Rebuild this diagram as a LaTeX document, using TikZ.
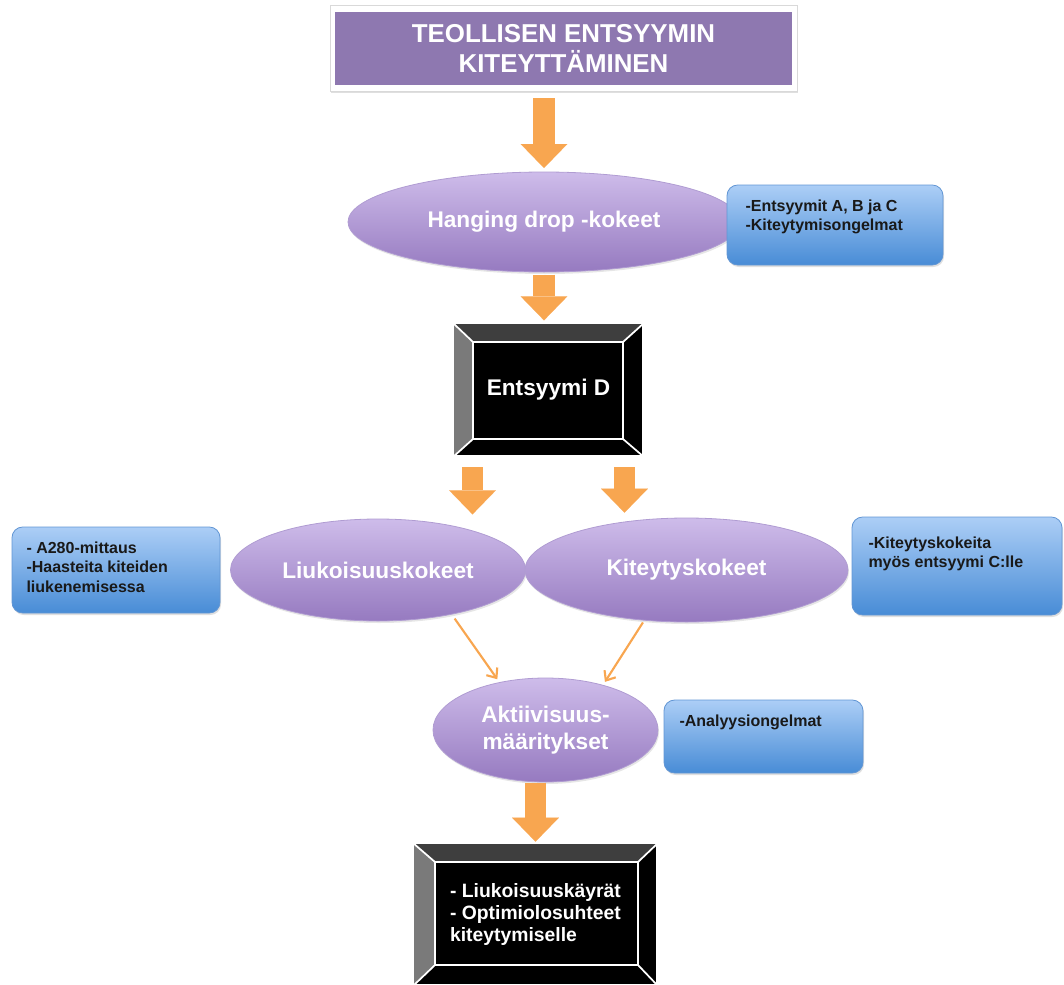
\documentclass[tikz,border=0pt]{standalone}
\usepackage{fontspec}
\setmainfont{Liberation Sans}
\usetikzlibrary{calc,shapes.geometric,arrows.meta,shadows}

\definecolor{titlepurple}{RGB}{142,120,176}
\definecolor{elltop}{RGB}{206,188,234}
\definecolor{ellbot}{RGB}{150,122,192}
\definecolor{elledge}{RGB}{176,156,210}
\definecolor{bluetop}{RGB}{172,206,246}
\definecolor{bluebot}{RGB}{72,140,214}
\definecolor{blueedge}{RGB}{98,150,212}
\definecolor{arroworange}{RGB}{248,166,80}
\definecolor{bevelgrey}{RGB}{122,122,122}
\definecolor{beveldark}{RGB}{62,62,62}

\tikzset{every picture/.style={line width=0.75pt}}
\tikzset{
  ellipsebox/.style={ellipse, inner sep=0pt, outer sep=0pt, top color=elltop, bottom color=ellbot,
    draw=elledge, line width=0.6pt, text=white, align=center,
    font=\fontsize{17}{20}\selectfont\bfseries,
    drop shadow={opacity=0.2, shadow xshift=0.8pt, shadow yshift=-1.5pt}},
  infobox/.style={rectangle, rounded corners=8pt, inner sep=0pt, outer sep=0pt,
    top color=bluetop, bottom color=bluebot, draw=blueedge, line width=0.6pt,
    drop shadow={opacity=0.25, shadow xshift=0.8pt, shadow yshift=-1.5pt}},
  infotext/.style={anchor=north west, inner sep=0pt, align=left, text=black!90,
    font=\fontsize{12}{14.6}\selectfont\bfseries},
  bevelbox/.style={rectangle, inner sep=0pt, outer sep=0pt, fill=black, draw=white,
    line width=3pt, text=white,
    drop shadow={opacity=0.3, shadow xshift=0.8pt, shadow yshift=-1.5pt}},
  bevelline/.style={draw=white, line width=1.3pt},
  bigarrow/.style={draw=arroworange, line width=16pt,
    -{Triangle[width=35pt,length=18pt,line width=0.01pt]}},
  thinarrow/.style={draw=arroworange, line width=1.6pt,
    -{Straight Barb[length=6pt,width=10pt]}},
}

\begin{document}
\begin{tikzpicture}[x=0.75pt,y=0.75pt,yscale=-1,xscale=1]
\useasboundingbox (0,0) rectangle (1064,985);

%Title
\node[rectangle, fill=white, draw=black!15, line width=0.6pt, minimum width=350.25pt, minimum height=64.5pt,
  drop shadow={opacity=0.25, shadow xshift=0.8pt, shadow yshift=-1.5pt}] (titlebox) at (563.5,48) {};
\node[rectangle, fill=titlepurple, minimum width=342.75pt, minimum height=54.75pt, text=white, align=center,
  font=\fontsize{19.4}{22.5}\selectfont\bfseries] (title) at (563.5,48.5) {TEOLLISEN ENTSYYMIN\\KITEYTTÄMINEN};

%Ellipses
\node[ellipsebox, minimum width=294pt, minimum height=75pt] (hang) at (544,222) {Hanging drop -kokeet};
\node[ellipsebox, minimum width=221.25pt, minimum height=76.5pt] (liuk) at (378,570) {Liukoisuuskokeet};
\node[ellipsebox, minimum width=242.25pt, minimum height=78pt] (kit) at (686.5,570) {Kiteytyskokeet};
\node[ellipsebox, minimum width=168.75pt, minimum height=78pt] (akt) at (545.5,730) {Aktiivisuus-\\määritykset};

%Info boxes
\node[infobox, minimum width=162pt, minimum height=60pt] (info1) at (835,225) {};
\node[infotext] (info1txt) at ($(info1.north west)+(18,14)$) {-Entsyymit A, B ja C\\-Kiteytymisongelmat};
\node[infobox, minimum width=156pt, minimum height=64.5pt] (info2) at (116,570) {};
\node[infotext] (info2txt) at ($(info2.north west)+(14,14)$) {- A280-mittaus\\-Haasteita kiteiden\\liukenemisessa};
\node[infobox, minimum width=157.5pt, minimum height=73.5pt] (info3) at (957,566) {};
\node[infotext] (info3txt) at ($(info3.north west)+(16,19)$) {-Kiteytyskokeita\\myös entsyymi C:lle};
\node[infobox, minimum width=149.25pt, minimum height=54.75pt] (info4) at (763.5,736.5) {};
\node[infotext] (info4txt) at ($(info4.north west)+(15,14)$) {-Analyysiongelmat};

%Bevel box: Entsyymi D
\node[bevelbox, minimum width=143.25pt, minimum height=100.5pt,
  font=\fontsize{17}{20}\selectfont\bfseries] (boxD) at (548.5,390) {Entsyymi D};
\coordinate (dnw) at ($(boxD.north west)+(20,19)$);
\coordinate (dne) at ($(boxD.north east)+(-21,19)$);
\coordinate (dse) at ($(boxD.south east)+(-21,-18)$);
\coordinate (dsw) at ($(boxD.south west)+(20,-18)$);
\fill[beveldark] (boxD.north west) -- (boxD.north east) -- (dne) -- (dnw) -- cycle;
\fill[bevelgrey] (boxD.north west) -- (dnw) -- (dsw) -- (boxD.south west) -- cycle;
\draw[bevelline] (dnw) rectangle (dse);
\draw[bevelline] (boxD.north west) -- (dnw) (boxD.north east) -- (dne)
  (boxD.south east) -- (dse) (boxD.south west) -- (dsw);
\draw[bevelline] (boxD.north west) rectangle (boxD.south east);

%Bevel box: result
\node[bevelbox, minimum width=183.75pt, minimum height=107.25pt, align=left,
  font=\fontsize{14.5}{16.5}\selectfont\bfseries] (result) at (535.5,914.5)
  {- Liukoisuuskäyrät\\- Optimiolosuhteet\\kiteytymiselle};
\coordinate (rnw) at ($(result.north west)+(22,19)$);
\coordinate (rne) at ($(result.north east)+(-20,19)$);
\coordinate (rse) at ($(result.south east)+(-20,-21)$);
\coordinate (rsw) at ($(result.south west)+(22,-21)$);
\fill[beveldark] (result.north west) -- (result.north east) -- (rne) -- (rnw) -- cycle;
\fill[bevelgrey] (result.north west) -- (rnw) -- (rsw) -- (result.south west) -- cycle;
\draw[bevelline] (rnw) rectangle (rse);
\draw[bevelline] (result.north west) -- (rnw) (result.north east) -- (rne)
  (result.south east) -- (rse) (result.south west) -- (rsw);
\draw[bevelline] (result.north west) rectangle (result.south east);

%Arrows
\coordinate (d3) at ($(boxD.south)+(-76,0)$);
\coordinate (d4) at ($(boxD.south)+(76,0)$);
\draw[bigarrow, shorten <=5pt, shorten >=3pt] (hang.north |- titlebox.south) -- (hang.north);
\draw[bigarrow, shorten <=2pt, shorten >=2pt] (hang.south) -- (hang.south |- boxD.north);
\draw[bigarrow, shorten <=7.5pt, shorten >=3.5pt] (d3) -- (d3 |- liuk.north);
\draw[bigarrow, shorten <=7.5pt, shorten >=4pt] (d4) -- (d4 |- kit.north);
\draw[bigarrow, shorten <=1pt, shorten >=1pt] (akt.south -| result.north) -- (result.north);
\draw[thinarrow, shorten <=4pt, shorten >=3pt] (liuk.-31) -- (akt.134);
\draw[thinarrow, shorten <=2pt, shorten >=3pt] (kit.-130) -- (akt.38);

\end{tikzpicture}
\end{document}
